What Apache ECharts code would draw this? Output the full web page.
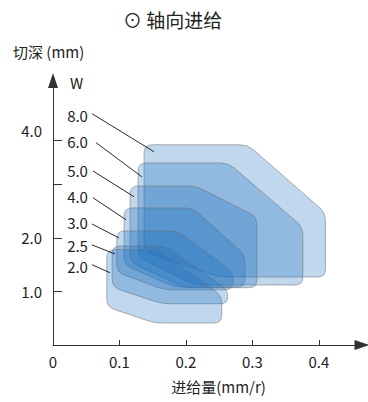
<!DOCTYPE html>
<html><head><meta charset="utf-8">
<script src="https://cdn.jsdelivr.net/npm/echarts@6/dist/echarts.min.js"></script>
<style>html,body{margin:0;padding:0;background:#fff}#c{width:368px;height:402px}</style>
</head><body><div id="c"></div>
<script>
const FONT = '"Noto Sans CJK SC","Noto Sans",sans-serif';
const titleText = '⊙ 轴向进给';
const yName = '切深 (mm)';
const wName = 'W';
const xName = '进给量(mm/r)';
const xTickLabels = [0, 0.1, 0.2, 0.3, 0.4];
const xTicks = [0.1, 0.2, 0.3, 0.4];
const yTickLabels = [1, 2, 4];
const yTicks = [1, 2, 3, 3.83];
const widthLabels = ['8.0', '6.0', '5.0', '4.0', '3.0', '2.5', '2.0'];
// cutting regions (feed mm/r, depth mm), one per width W
const region80 = [[0.137,3.74],[0.293,3.74],[0.41,2.47],[0.41,1.27],[0.251,1.27],[0.137,1.74]];
const region60 = [[0.128,3.40],[0.264,3.40],[0.376,2.20],[0.376,1.12],[0.213,1.12],[0.128,1.65]];
const region50 = [[0.116,2.97],[0.215,2.97],[0.307,2.39],[0.307,1.07],[0.198,1.07],[0.116,1.55]];
const region40 = [[0.107,2.56],[0.21,2.56],[0.289,1.68],[0.289,1.08],[0.183,1.08],[0.107,1.50]];
const region30 = [[0.096,2.13],[0.188,2.13],[0.271,1.36],[0.271,1.03],[0.168,1.03],[0.096,1.36]];
const region25 = [[0.089,1.85],[0.168,1.85],[0.263,1.03],[0.263,0.77],[0.164,0.77],[0.089,1.08]];
const region20 = [[0.081,1.78],[0.156,1.78],[0.254,0.92],[0.254,0.41],[0.153,0.41],[0.081,0.71]];
const regions = [region80, region60, region50, region40, region30, region25, region20];
// label anchors and leader lines: label end -> region edge
const labelAnchor = [[0.0526,4.29],[0.0526,3.80],[0.0526,3.25],[0.0526,2.77],[0.0526,2.28],[0.0526,1.85],[0.0526,1.46]];
const leaderStart = [[0.0586,4.32],[0.0647,3.78],[0.0602,3.25],[0.0602,2.75],[0.0586,2.26],[0.0586,1.87],[0.0586,1.50]];
const leaderEnd = [[0.1519,3.61],[0.1338,3.14],[0.1218,2.77],[0.1098,2.34],[0.0992,2.00],[0.0932,1.70],[0.0857,1.35]];

function roundedPath(pts, r) {
  const n = pts.length; let d = '';
  for (let i = 0; i < n; i++) {
    const p0 = pts[(i - 1 + n) % n], p1 = pts[i], p2 = pts[(i + 1) % n];
    const v1 = [p0[0] - p1[0], p0[1] - p1[1]], v2 = [p2[0] - p1[0], p2[1] - p1[1]];
    const l1 = Math.hypot(v1[0], v1[1]), l2 = Math.hypot(v2[0], v2[1]);
    const rr = Math.min(r, l1 / 2, l2 / 2);
    const a = [p1[0] + v1[0] / l1 * rr, p1[1] + v1[1] / l1 * rr];
    const b = [p1[0] + v2[0] / l2 * rr, p1[1] + v2[1] / l2 * rr];
    d += (i === 0 ? 'M' : 'L') + a[0].toFixed(2) + ' ' + a[1].toFixed(2) +
      ' Q' + p1[0].toFixed(2) + ' ' + p1[1].toFixed(2) + ' ' + b[0].toFixed(2) + ' ' + b[1].toFixed(2) + ' ';
  }
  return d + 'Z';
}

const chart = echarts.init(document.getElementById('c'), null, { renderer: 'svg' });
const axisColor = '#333';
chart.setOption({
  animation: false,
  backgroundColor: '#fff',
  title: {
    text: titleText, left: 118, top: 5,
    textStyle: { fontFamily: FONT, fontSize: 19, fontWeight: 'normal', color: '#222' }
  },
  graphic: [
    { type: 'text', left: 13, top: 44, style: { text: yName, fontFamily: FONT, fontSize: 15, fill: '#222' } },
    { type: 'text', left: 70, top: 75, style: { text: wName, fontFamily: FONT, fontSize: 15, fill: '#222' } }
  ],
  grid: { left: 53, right: 6, top: 80.5, bottom: 57, containLabel: false },
  xAxis: {
    type: 'value', min: 0, max: 0.465,
    name: xName, nameLocation: 'middle', nameGap: 34,
    nameTextStyle: { fontFamily: FONT, fontSize: 15, color: '#222', padding: [0, 0, 0, 22] },
    splitLine: { show: false },
    axisLine: { lineStyle: { color: axisColor, width: 1 }, symbol: ['none', 'triangle'], symbolSize: [10, 15] },
    axisTick: { inside: true, length: 5, customValues: xTicks, lineStyle: { color: axisColor } },
    axisLabel: {
      customValues: xTickLabels, margin: 9,
      fontFamily: FONT, fontSize: 15, color: '#222',
      formatter: v => v === 0 ? '0' : v.toFixed(1)
    }
  },
  yAxis: {
    type: 'value', min: 0, max: 4.94,
    splitLine: { show: false },
    axisLine: { show: true, lineStyle: { color: axisColor, width: 1 }, symbol: ['none', 'triangle'], symbolSize: [10, 15] },
    axisTick: { show: true, inside: true, length: 9, customValues: yTicks, lineStyle: { color: axisColor } },
    axisLabel: {
      customValues: yTickLabels, margin: 11,
      fontFamily: FONT, fontSize: 15, color: '#222',
      formatter: v => v.toFixed(1)
    }
  },
  series: [
    {
      type: 'custom', name: 'regions',
      data: regions.map((r, i) => [i]),
      renderItem: function (params, api) {
        const pts = regions[params.dataIndex].map(p => api.coord(p));
        return {
          type: 'path',
          shape: { pathData: roundedPath(pts, 8) },
          style: { fill: 'rgba(30,110,190,0.28)', stroke: 'rgba(105,105,105,0.5)', lineWidth: 1 }
        };
      }
    },
    {
      type: 'custom', name: 'labels',
      data: widthLabels.map((l, i) => [i]),
      renderItem: function (params, api) {
        const i = params.dataIndex;
        const s = api.coord(leaderStart[i]);
        const e = api.coord(leaderEnd[i]);
        const t = api.coord(labelAnchor[i]);
        return {
          type: 'group',
          children: [
            { type: 'line', shape: { x1: s[0], y1: s[1], x2: e[0], y2: e[1] }, style: { stroke: '#111', lineWidth: 0.9 } },
            { type: 'text', x: t[0], y: t[1],
              style: { text: widthLabels[i], align: 'right', verticalAlign: 'middle', fontFamily: FONT, fontSize: 15, fill: '#222' } }
          ]
        };
      }
    }
  ]
});
</script>
</body></html>
